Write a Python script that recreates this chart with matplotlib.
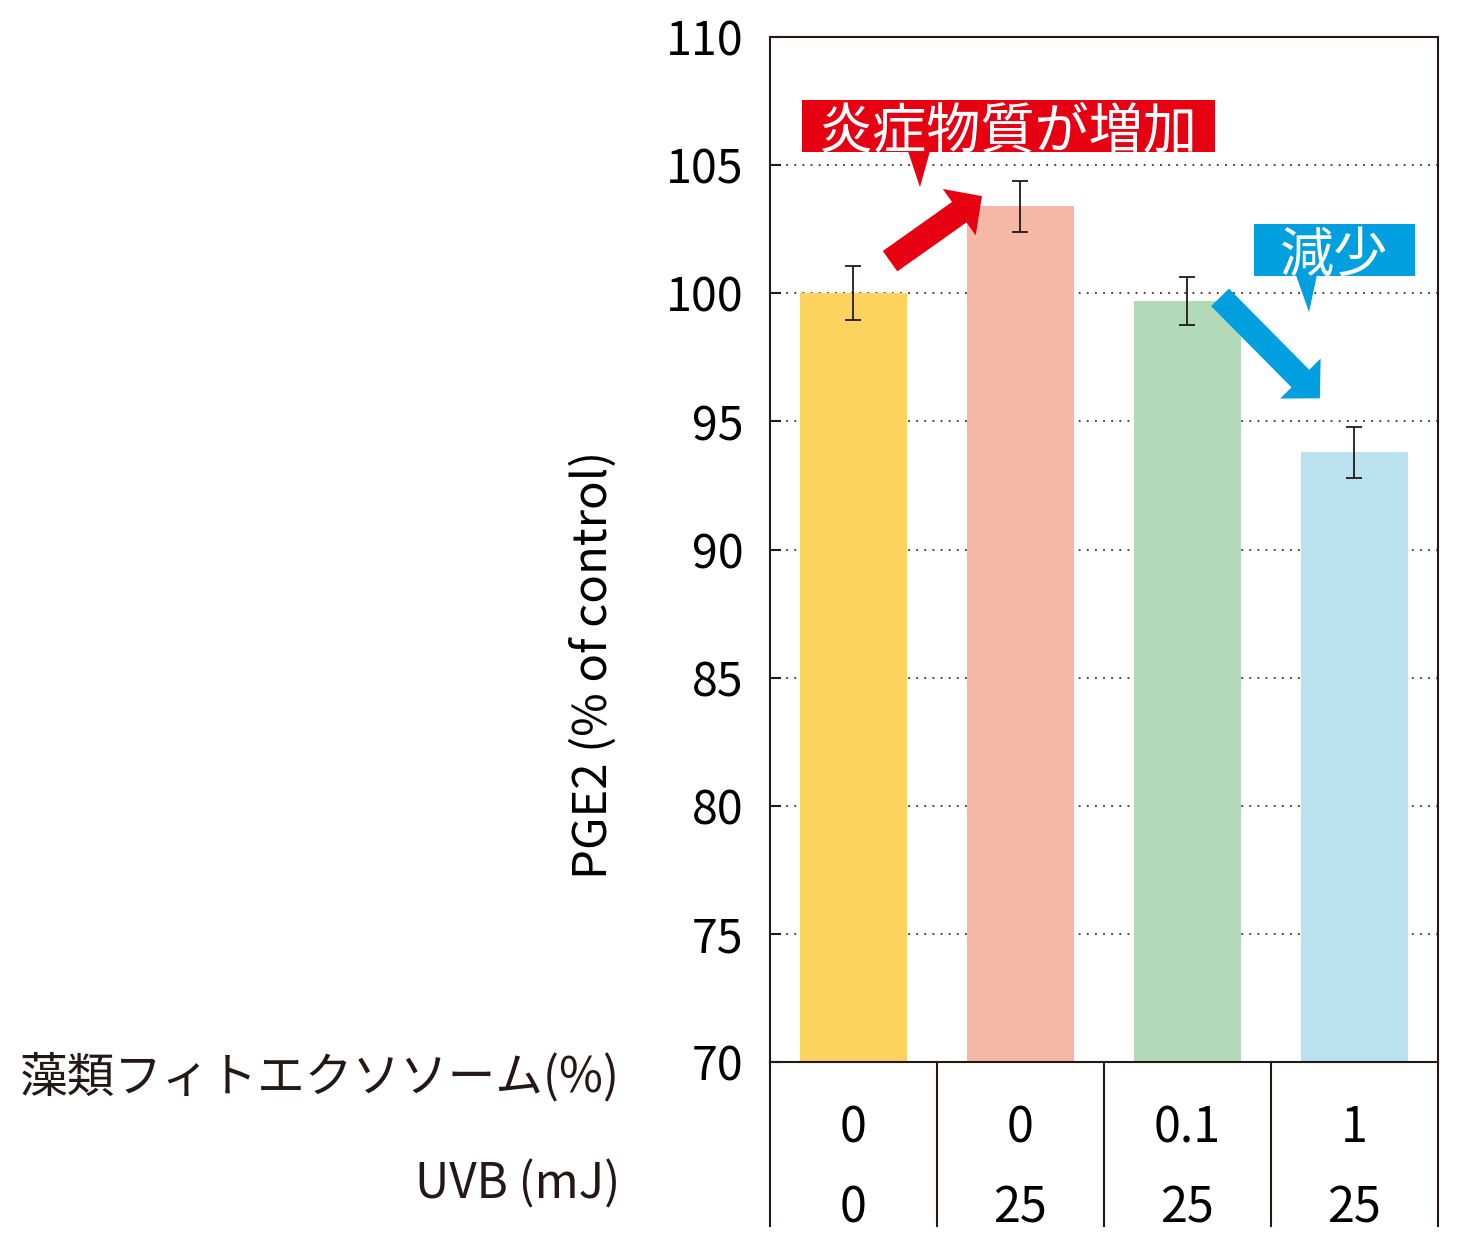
import matplotlib
matplotlib.use("Agg")
import matplotlib.pyplot as plt
from matplotlib.patches import Rectangle, Polygon, FancyArrowPatch

plt.rcParams['font.family'] = ['Noto Sans CJK JP', 'DejaVu Sans']

# data
algae_pct = ['0', '0', '0.1', '1']
uvb_mj = ['0', '25', '25', '25']
pge2 = [100.0, 103.4, 99.7, 93.8]
pge2_err = [1.05, 1.0, 0.92, 1.0]
bar_colors = ['#FDD35F', '#F5B8A6', '#B2DAB8', '#BAE1F0']
yticks = [70, 75, 80, 85, 90, 95, 100, 105, 110]

INK = '#231815'
RED = '#E60012'
BLUE = '#009FE0'

fig = plt.figure(figsize=(14.6, 12.5), dpi=100)
ax = fig.add_axes([0.5274, 0.1504, 0.4575, 0.82])

x = list(range(len(pge2)))
ax.bar(x, pge2, width=0.64, color=bar_colors, zorder=2)
ax.errorbar(x, pge2, yerr=pge2_err, fmt='none', ecolor=INK, elinewidth=1.3,
            capsize=5.6, capthick=1.3, zorder=3)

ax.set_xlim(-0.5, 3.5)
ax.set_ylim(70, 110)
ax.set_yticks(yticks)
ax.set_xticks([])
ax.tick_params(axis='y', direction='in', length=8, width=1.5, color=INK,
               labelsize=33.5, pad=19, labelcolor='black')
for s in ax.spines.values():
    s.set_color(INK)
    s.set_linewidth(1.5)
for v in yticks[1:-1]:
    ax.axhline(v, color='#333333', lw=1.3, ls=(0, (1, 3.5)), zorder=1)

ax.set_ylabel('PGE2 (% of control)', fontsize=34, color='black')
ax.yaxis.set_label_coords(-0.2275, 0.387)

# table under the bars
y_bot = 63.6
for xv in [-0.5, 0.5, 1.5, 2.5, 3.5]:
    ax.plot([xv, xv], [70, y_bot], color=INK, lw=1.5, clip_on=False)
for i in x:
    ax.text(i, 67.4, algae_pct[i], ha='center', va='center', fontsize=35, clip_on=False)
    ax.text(i, 64.28, uvb_mj[i], ha='center', va='center', fontsize=35, clip_on=False)
ax.text(-1.398, 69.375, '藻類フィトエクソソーム(%)', ha='right', va='center',
        fontsize=34.3, color=INK, clip_on=False)
ax.text(-1.398, 65.2, 'UVB (mJ)', ha='right', va='center',
        fontsize=34.3, color=INK, clip_on=False)

# callouts
ax.add_patch(Rectangle((-0.308, 105.51), 2.473, 2.03, color=RED, zorder=5, lw=0))
ax.add_patch(Polygon([(0.326, 105.55), (0.458, 105.55), (0.398, 104.14)],
                     closed=True, color=RED, zorder=5, lw=0))
ax.text(0.93, 106.27, '炎症物質が増加', color='white', fontsize=39,
        ha='center', va='center', zorder=6)

ax.add_patch(Rectangle((2.398, 100.66), 0.964, 2.04, color=BLUE, zorder=5, lw=0))
ax.add_patch(Polygon([(2.65, 100.7), (2.775, 100.7), (2.728, 99.26)],
                     closed=True, color=BLUE, zorder=5, lw=0))
ax.text(2.88, 101.45, '減少', color='white', fontsize=39,
        ha='center', va='center', zorder=6)

# arrows
ax.add_patch(FancyArrowPatch((0.219, 101.25), (0.769, 103.79),
                             arrowstyle='simple,head_length=20,head_width=41,tail_width=18',
                             mutation_scale=1, color=RED, lw=0, zorder=6,
                             shrinkA=0, shrinkB=0))
ax.add_patch(FancyArrowPatch((2.195, 99.84), (2.793, 95.90),
                             arrowstyle='simple,head_length=20,head_width=41,tail_width=18',
                             mutation_scale=1, color=BLUE, lw=0, zorder=6,
                             shrinkA=0, shrinkB=0))

fig.savefig('out.png', dpi=100, facecolor='white')
